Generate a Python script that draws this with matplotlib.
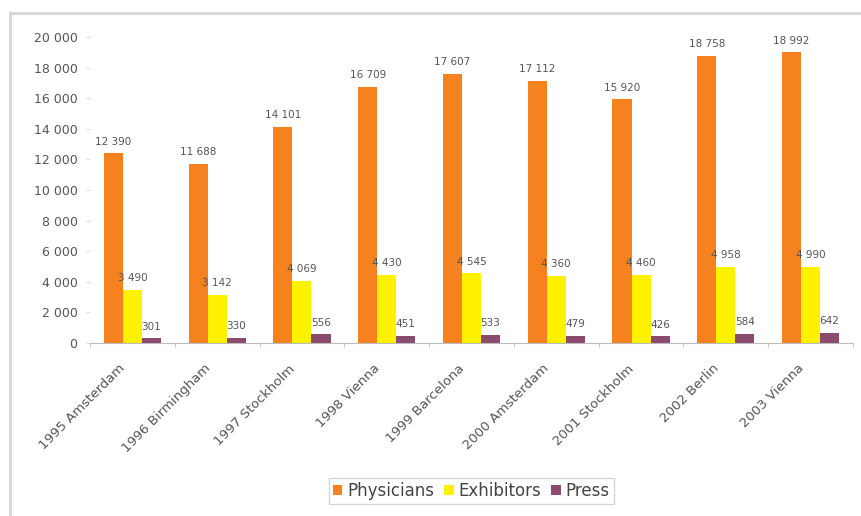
import matplotlib
matplotlib.use("Agg")
import matplotlib.pyplot as plt
import numpy as np
from matplotlib.lines import Line2D
from matplotlib.transforms import ScaledTranslation

categories = ["1995 Amsterdam", "1996 Birmingham", "1997 Stockholm", "1998 Vienna",
              "1999 Barcelona", "2000 Amsterdam", "2001 Stockholm", "2002 Berlin", "2003 Vienna"]
physicians = [12390, 11688, 14101, 16709, 17607, 17112, 15920, 18758, 18992]
exhibitors = [3490, 3142, 4069, 4430, 4545, 4360, 4460, 4958, 4990]
press = [301, 330, 556, 451, 533, 479, 426, 584, 642]
series_names = ["Physicians", "Exhibitors", "Press"]
colors = ["#F5821F", "#FFF200", "#8B4B6E"]
yticks = list(range(0, 20001, 2000))

def fmt(v):
    return "{:,}".format(v).replace(",", " ")

W, H = 861, 516
fig = plt.figure(figsize=(W/100, H/100), dpi=100)
ax = fig.add_axes([90/W, 1-343/H, (853-90)/W, (343-37)/H])

x = np.arange(len(categories))
w = 0.225
txt_col = "#555555"
for i, (vals, c, name) in enumerate(zip([physicians, exhibitors, press], colors, series_names)):
    pos = x + (i - 1) * w
    ax.bar(pos, vals, width=w, color=c, label=name, zorder=2)
    for p, v in zip(pos, vals):
        ax.text(p, v + 450, fmt(v), ha="center", va="bottom", fontsize=7.5, color=txt_col)

ax.set_xlim(-0.5, len(categories) - 0.5)
ax.set_ylim(0, 20000)
ax.set_yticks(yticks)
ax.set_yticklabels([fmt(t) for t in yticks], fontsize=9, color=txt_col)
ax.set_xticks(np.arange(len(categories) + 1) - 0.5, minor=True)
ax.set_xticks(x)
ax.set_xticklabels(categories, rotation=45, ha="right", va="center", rotation_mode="anchor",
                   fontsize=9.5, color=txt_col)
ax.tick_params(axis="x", which="major", length=0, pad=17)
for lab in ax.get_xticklabels():
    lab.set_transform(lab.get_transform() + ScaledTranslation(-9/100, 0, fig.dpi_scale_trans))
ax.tick_params(axis="x", which="minor", length=3, color="#bbbbbb")
ax.tick_params(axis="y", length=3, color="#dddddd", pad=6)
for s in ["top", "right", "left"]:
    ax.spines[s].set_visible(False)
ax.spines["bottom"].set_color("#bbbbbb")

leg = ax.legend(loc="upper center", bbox_to_anchor=(0.5, (343-478)/306), ncol=3,
                frameon=True, fancybox=False, edgecolor="#cccccc", fontsize=12,
                handlelength=0.55, handleheight=0.55, handletextpad=0.3, columnspacing=0.6,
                borderpad=0.25, borderaxespad=0)
for t in leg.get_texts():
    t.set_color("#444444")

fig.lines.append(Line2D([10/W, 10/W], [0, 1-13/H], transform=fig.transFigure,
                        color="#d6d6d6", linewidth=2))
fig.lines.append(Line2D([10/W, 1], [1-13/H, 1-13/H], transform=fig.transFigure,
                        color="#d6d6d6", linewidth=2))
fig.savefig("out.png", dpi=100)
